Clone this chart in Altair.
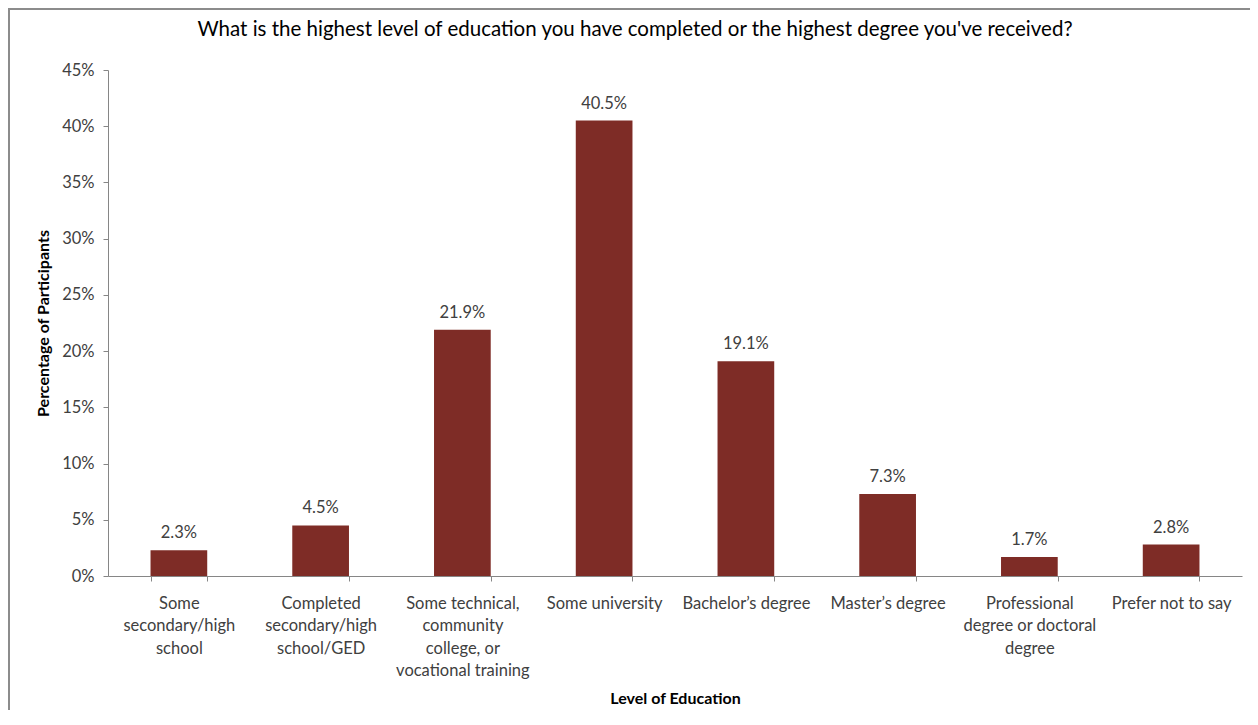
import altair as alt
import pandas as pd

categories = [
    "Some secondary/high school",
    "Completed secondary/high school/GED",
    "Some technical, community college, or vocational training",
    "Some university",
    "Bachelor\u2019s degree",
    "Master\u2019s degree",
    "Professional degree or doctoral degree",
    "Prefer not to say",
]
label_lines = [
    ["Some", "secondary/high", "school"],
    ["Completed", "secondary/high", "school/GED"],
    ["Some technical,", "community", "college, or", "vocational training"],
    ["Some university"],
    ["Bachelor\u2019s degree"],
    ["Master\u2019s degree"],
    ["Professional", "degree or doctoral", "degree"],
    ["Prefer not to say"],
]
values = [0.023, 0.045, 0.219, 0.405, 0.191, 0.073, 0.017, 0.028]

df = pd.DataFrame({"cat": categories, "val": values})

def js_str(s):
    return "'" + s.replace("\\", "\\\\").replace("'", "\\'") + "'"

expr = "datum.value"
for c, lines in reversed(list(zip(categories, label_lines))):
    arr = "[" + ",".join(js_str(l) for l in lines) + "]"
    expr = f"datum.value == {js_str(c)} ? {arr} : ({expr})"

FONT = "Lato"
TXT = "#404040"
AX = "#868686"
FS = 16.5

x = alt.X(
    "cat:N",
    sort=categories,
    scale=alt.Scale(paddingInner=0.6, paddingOuter=0.3),
    axis=alt.Axis(
        title="Level of Education",
        labelAngle=0,
        labelExpr=expr,
        labelFont=FONT,
        labelFontSize=FS,
        labelColor=TXT,
        labelLineHeight=22.5,
        labelBaseline="top",
        labelPadding=14,
        labelLimit=200,
        tickBand="extent",
        tickSize=5,
        tickColor=AX,
        domainColor=AX,
        titleFont=FONT,
        titleFontSize=16,
        titleFontWeight="bold",
        titleColor="#000000",
        titlePadding=11,
    ),
)
y = alt.Y(
    "val:Q",
    scale=alt.Scale(domain=[0, 0.45]),
    axis=alt.Axis(
        title="Percentage of Participants",
        format=".0%",
        values=[0, 0.05, 0.1, 0.15, 0.2, 0.25, 0.3, 0.35, 0.4, 0.45],
        grid=False,
        labelFont=FONT,
        labelFontSize=FS,
        labelColor=TXT,
        labelPadding=9,
        tickSize=5,
        tickColor=AX,
        domainColor=AX,
        titleFont=FONT,
        titleFontSize=16,
        titleFontWeight="bold",
        titleColor="#000000",
        titlePadding=10,
    ),
)

# Chart-area frame (decoration, like the Excel chart border)
frame = alt.Chart(alt.Data(values=[{"f": 1}])).mark_rect(
    fill=None, stroke="#8C8C8C", strokeWidth=2
).encode(
    x=alt.value(-99), x2=alt.value(1300),
    y=alt.value(-61), y2=alt.value(900),
)

bars = alt.Chart(df).mark_bar(color="#7E2C26").encode(x=x, y=y)
labels = alt.Chart(df).mark_text(
    dy=-17, font=FONT, fontSize=FS, color=TXT
).encode(x=alt.X("cat:N", sort=categories), y="val:Q", text=alt.Text("val:Q", format=".1%"))

chart = (
    alt.layer(frame, bars, labels)
    .properties(
        width=1134,
        height=506,
        title=alt.TitleParams(
            "What is the highest level of education you have completed or the highest degree you've received?",
            font=FONT,
            fontSize=20.5,
            fontWeight="normal",
            color="#000000",
            anchor="middle",
            frame="group",
            dx=-40,
            offset=-32,
        ),
        autosize=alt.AutoSizeParams(type="none"),
        padding={"left": 100, "top": 62, "right": 8, "bottom": 134},
    )
    .configure_view(stroke=None)
)

chart.save("out.html", embed_options={"renderer": "svg", "actions": False})
